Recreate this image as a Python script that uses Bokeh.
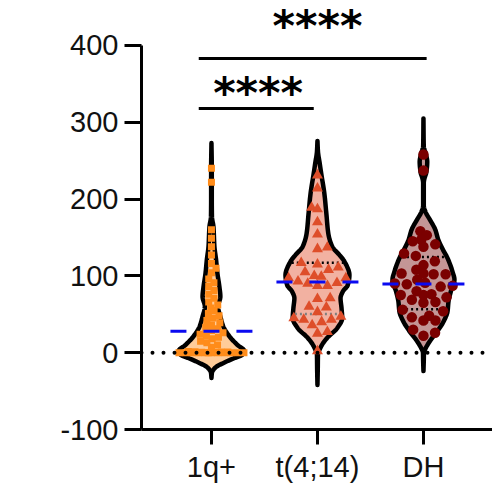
import math
import numpy as np
from bokeh.plotting import figure
from bokeh.models import FixedTicker, Span, Label
from bokeh.core.properties import value
from bokeh.embed import file_html
from bokeh.resources import INLINE

# ---------------- data ----------------
categories = ["1q+", "t(4;14)", "DH"]

values_1q = [0, 0, 0, 0, 0, 0, 0, 0, 0, 0, 0, 0, 0.3, 0.5, 0.8, 1, 1.2, 1.5,
             7, 10, 13, 15, 18,
             20, 22, 24, 26,
             29, 31, 33, 36, 39,
             42, 45, 48, 51, 55, 58, 62, 66, 71, 76, 81,
             86, 91, 96, 104, 110, 116, 127,
             138, 149, 160, 222, 240]
values_t414 = [231, 214, 189, 187, 170, 154, 137, 135,
               117, 115, 111, 108, 105, 100, 99, 97, 97, 93, 91, 90, 87, 87,
               71, 70, 60, 59, 53, 47, 45, 43, 43, 40, 36, 27, 25, 2]
values_dh = [258, 237, 158, 153, 147, 145, 141, 138, 129, 126, 119, 114, 108,
             103, 103, 102, 102, 95, 91, 90, 89, 87, 86, 80, 76, 75, 75, 72, 69,
             66, 65, 56, 54, 48, 46, 42, 42, 30, 26, 22]

# violin density profiles: value levels and relative density (1 = widest)
prof_y_1q = [-33, -26, -19.5, -13, -7, -2.6, 2, 10, 21, 34, 47, 60, 73, 86,
             103.5, 121, 138, 164, 177, 200, 240, 273]
prof_d_1q = [0, 0.015, 0.115, 0.385, 0.70, 0.94, 1.0, 0.79, 0.55, 0.36, 0.27,
             0.20, 0.27, 0.24, 0.18, 0.14, 0.09, 0.06, 0.015, 0.01, 0.01, 0]
prof_y_t414 = [-42, -20, -3, 8, 19, 32, 45, 58, 71, 79.6, 88, 101, 118.6, 127,
               138, 155, 181, 207, 233, 246, 262, 275.7]
prof_d_t414 = [0, 0.01, 0.015, 0.11, 0.29, 0.60, 0.75, 0.73, 0.70, 0.77, 0.92,
               0.97, 0.82, 0.67, 0.45, 0.33, 0.27, 0.21, 0.115, 0.07, 0.015, 0]
prof_y_dh = [-24, -10, 0, 6, 14.7, 27.7, 40.6, 53.6, 66.6, 79.6, 95, 105.6, 123,
             135, 147, 160, 172.7, 183.5, 191, 221, 224.7, 235.5, 248.5, 259, 268, 305]
prof_d_dh = [0, 0.01, 0.015, 0.07, 0.19, 0.42, 0.61, 0.73, 0.76, 0.83, 0.94, 0.88,
             0.73, 0.58, 0.45, 0.36, 0.20, 0.06, 0.01, 0.01, 0.02, 0.09, 0.115,
             0.07, 0.01, 0]

medians = [28, 92, 89.5]
quart_lo = [None, 50.5, 56.5]
quart_hi = [None, 117, 124.5]

y_ticks = [-100, 0, 100, 200, 300, 400]
y_title = "CD56 RNA (FPKM)"

# significance annotations
comp_x0 = [-0.12, -0.12]
comp_x1 = [2.03, 0.965]
comp_y = [383, 318]
comp_text = ["****", "****"]
comp_text_x = [1.0, 0.44]
comp_text_y = [432.5, 346]

# ---------------- style ----------------
FILL = ["#FFCC99", "#F2B1A1", "#C49696"]
PTS = ["#FF8C1A", "#DE4E2A", "#7B0000"]
MARKERS = ["square", "triangle", "circle"]
MSIZE = [7, 11, 10.5]
SWARM_D = [6.5, 10, 12]
BLUE = "#0A0AF0"
FONT = "Liberation Sans"
STAR_FONT = "DejaVu Sans"

W, H = 492, 485
ML, MR, MT, MB = 141, 0, 0, 55
FRAME_W, FRAME_H = W - ML - MR, H - MT - MB
X0 = -0.660
X1 = X0 + FRAME_W / 106.0
Y0 = -100
Y1 = Y0 + FRAME_H / 0.77
PX_X = FRAME_W / (X1 - X0)
PX_Y = FRAME_H / (Y1 - Y0)
VIOLIN_HALF = 0.311       # half-width (x units) of density 1
MEDIAN_HALF = 0.387


def pchip(xk, yk, x):
    xk = np.asarray(xk, float)
    yk = np.asarray(yk, float)
    x = np.asarray(x, float)
    h = np.diff(xk)
    d = np.diff(yk) / h
    n = len(xk)
    m = np.zeros(n)
    for k in range(1, n - 1):
        if d[k - 1] * d[k] > 0:
            w1 = 2 * h[k] + h[k - 1]
            w2 = h[k] + 2 * h[k - 1]
            m[k] = (w1 + w2) / (w1 / d[k - 1] + w2 / d[k])
    m[0] = d[0]
    m[-1] = d[-1]
    idx = np.clip(np.searchsorted(xk, x) - 1, 0, n - 2)
    t = (x - xk[idx]) / h[idx]
    h00 = 2 * t**3 - 3 * t**2 + 1
    h10 = t**3 - 2 * t**2 + t
    h01 = -2 * t**3 + 3 * t**2
    h11 = t**3 - t**2
    out = h00 * yk[idx] + h10 * h[idx] * m[idx] + h01 * yk[idx + 1] + h11 * h[idx] * m[idx + 1]
    out = np.where((x < xk[0]) | (x > xk[-1]), 0, out)
    return np.clip(out, 0, None)


def swarm(vals, dpx, prof_y, prof_d):
    vals = np.asarray(vals, float)
    order = np.argsort(vals, kind="stable")
    placed = []
    out = np.zeros(len(vals))
    for i in order:
        yp = vals[i] * PX_Y
        lim = float(pchip(prof_y, prof_d, [vals[i]])[0]) * VIOLIN_HALF * PX_X
        cands = [0.0]
        for (xq, yq) in placed:
            dy = yp - yq
            if abs(dy) < dpx:
                dx = math.sqrt(dpx**2 - dy**2)
                cands += [xq + dx, xq - dx]
        cands.sort(key=abs)

        def mind(c):
            if not placed:
                return 1e9
            return min(math.hypot(c - xq, yp - yq) for xq, yq in placed)

        chosen = None
        for c in cands:
            if abs(c) > lim + 1e-9:
                continue
            if mind(c) >= dpx - 1e-6:
                chosen = c
                break
        if chosen is None:
            grid = sorted(list(np.linspace(-lim, lim, 41)), key=abs)
            ok = [g for g in grid if mind(g) >= 0.6 * dpx]
            if ok:
                chosen = ok[0]
            else:
                chosen = max(grid, key=mind)
        placed.append((chosen, yp))
        out[i] = chosen
    return out / PX_X


p = figure(width=W, height=H, x_range=(X0, X1), y_range=(Y0, Y1),
           output_backend="svg", toolbar_location=None, tools="",
           min_border_left=ML, min_border_right=MR, min_border_top=MT,
           min_border_bottom=MB)
p.xgrid.visible = False
p.ygrid.visible = False
p.outline_line_color = None
p.background_fill_color = "white"
p.border_fill_color = "white"

# zero reference line
p.add_layout(Span(location=0, dimension="width", line_color="black", line_width=4,
                  line_dash="0 11", line_cap="round"))

groups = [(values_1q, prof_y_1q, prof_d_1q),
          (values_t414, prof_y_t414, prof_d_t414),
          (values_dh, prof_y_dh, prof_d_dh)]

for i, (vals, py, pd_) in enumerate(groups):
    c = float(i)
    grid = np.linspace(min(py), max(py), 500)
    w = pchip(py, pd_, grid) * VIOLIN_HALF
    xs = np.concatenate([c + w, (c - w)[::-1]])
    ys = np.concatenate([grid, grid[::-1]])
    p.patch(xs, ys, fill_color=FILL[i], line_color="black", line_width=4.5,
            line_join="round")
    # quartile lines
    for q, col in ((quart_hi[i], "black"), (quart_lo[i], "#7f7f7f" if i == 1 else "black")):
        if q is None:
            continue
        hw = float(pchip(py, pd_, [q])[0]) * VIOLIN_HALF - 2.0 / PX_X
        p.segment(x0=[c - hw], x1=[c + hw], y0=[q], y1=[q], line_color=col,
                  line_width=2.5, line_dash="2 3")

for i, (vals, py, pd_) in enumerate(groups):
    xo = swarm(vals, SWARM_D[i], py, pd_)
    p.scatter(x=i + xo, y=vals, marker=MARKERS[i], size=MSIZE[i],
              fill_color=PTS[i], line_color=None)

# median lines
p.segment(x0=[k - MEDIAN_HALF for k in range(3)], x1=[k + MEDIAN_HALF for k in range(3)],
          y0=medians, y1=medians, line_color=BLUE, line_width=3, line_dash="16 17")

# significance bars and stars
p.segment(x0=comp_x0, x1=comp_x1, y0=comp_y, y1=comp_y, line_color="black", line_width=3)
STAR_FS = 43
p.text(x=comp_text_x, y=comp_text_y, text=comp_text, text_font=value(STAR_FONT),
       text_font_style="bold", text_font_size=f"{STAR_FS}px", text_align="center",
       text_baseline="middle", y_offset=6, text_color="black")

# axes
for ax in (p.xaxis[0], p.yaxis[0]):
    ax.axis_line_width = 3
    ax.axis_line_color = "black"
    ax.major_tick_line_width = 3
    ax.major_tick_line_color = "black"
    ax.minor_tick_line_color = None
    ax.major_tick_in = 0
    ax.major_label_text_font = FONT
    ax.major_label_text_font_size = "29px"
    ax.major_label_text_color = "#111111"

p.yaxis.ticker = FixedTicker(ticks=y_ticks)
p.yaxis.bounds = (y_ticks[0], y_ticks[-1])
p.yaxis.major_label_overrides = {t: str(t) for t in y_ticks}
p.yaxis.major_tick_out = 17
p.yaxis.major_label_standoff = 6

p.xaxis.ticker = FixedTicker(ticks=list(range(len(categories))))
p.xaxis.major_label_overrides = {k: name for k, name in enumerate(categories)}
p.xaxis.major_tick_out = 15
p.xaxis.major_label_standoff = 6

# y-axis title, centred on the axis extent
p.add_layout(Label(x=X0 - (ML - 28.5) / PX_X, y=(y_ticks[0] + y_ticks[-1]) / 2, text=y_title,
                   angle=math.pi / 2, text_align="center", text_baseline="middle",
                   text_font=FONT, text_font_style="bold", text_font_size="28px",
                   text_color="black"))

open("out.html", "w").write(file_html(p, INLINE))
